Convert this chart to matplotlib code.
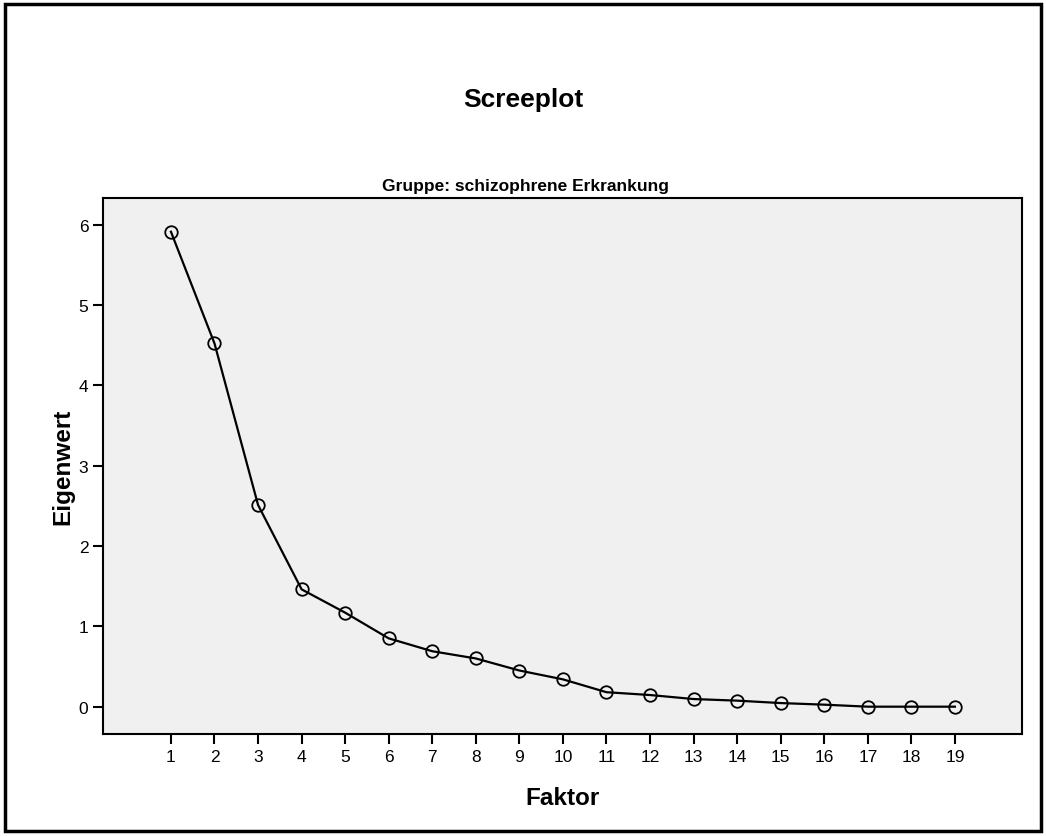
import matplotlib.pyplot as plt
from matplotlib.patches import Rectangle

plt.rcParams['font.family'] = ['Liberation Sans', 'DejaVu Sans']

faktor = list(range(1, 20))
eigenwert = [5.91, 4.52, 2.51, 1.46, 1.17, 0.85, 0.69, 0.60, 0.45, 0.34,
             0.18, 0.145, 0.095, 0.075, 0.045, 0.025, 0.0, 0.0, 0.0]
y_ticks = [0, 1, 2, 3, 4, 5, 6]

fig = plt.figure(figsize=(10.46, 8.37), dpi=100)
fig.patch.set_facecolor('white')

# outer frame
fig.patches.append(Rectangle((0.005, 0.006), 0.99, 0.988, transform=fig.transFigure,
                             fill=False, edgecolor='black', linewidth=2.5))

ax = fig.add_axes([103 / 1046, 1 - 735 / 837, (1022 - 103) / 1046, (735 - 199) / 837])
ax.set_facecolor('#f0f0f0')

ax.plot(faktor, eigenwert, color='black', linewidth=1.6, marker='o', markersize=9,
        markerfacecolor='none', markeredgecolor='black', markeredgewidth=1.3)

ax.set_xlim(-0.56, 20.54)
ax.set_ylim(-0.34, 6.33)
ax.set_xticks(faktor)
ax.set_yticks(y_ticks)
ax.tick_params(axis='both', direction='out', length=7, width=1.5, labelsize=12.5)
for s in ax.spines.values():
    s.set_linewidth(1.5)

ax.set_xlabel('Faktor', fontsize=17.5, fontweight='bold', labelpad=16)
ax.set_ylabel('Eigenwert', fontsize=17.5, fontweight='bold', labelpad=3)
ax.set_title('Gruppe: schizophrene Erkrankung', fontsize=12.5, fontweight='bold', pad=6,
             x=(525 - 103) / (1022 - 103))

fig.text(0.5, 1 - 100 / 837, 'Screeplot', ha='center', va='center',
         fontsize=19, fontweight='bold')

fig.savefig('out.png', dpi=100)
